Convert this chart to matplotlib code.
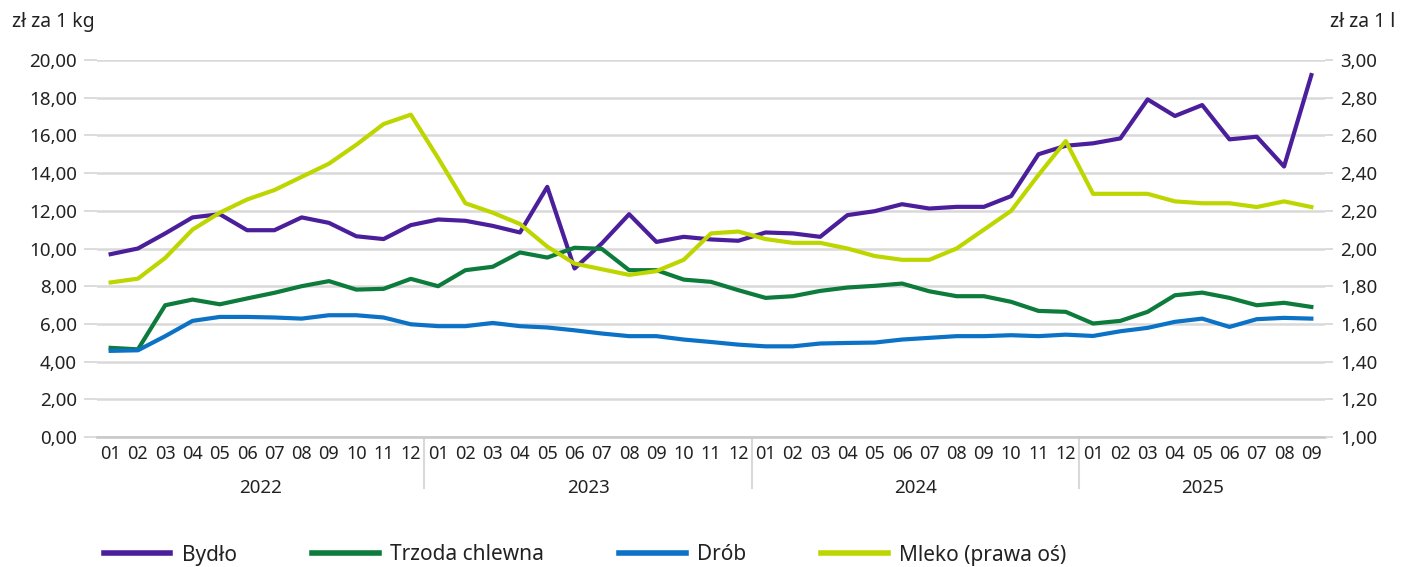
import matplotlib
matplotlib.use("Agg")
import matplotlib.pyplot as plt
from matplotlib.lines import Line2D
import numpy as np

plt.rcParams['font.family'] = ['Noto Sans', 'DejaVu Sans']

# data: monthly prices 2022-01 .. 2025-09
years = ['2022', '2023', '2024', '2025']
months_per_year = [12, 12, 12, 9]
month_labels = []
for n in months_per_year:
    month_labels += ['%02d' % m for m in range(1, n + 1)]

bydlo = [9.70, 10.00, 10.80, 11.65, 11.82, 10.97, 10.97, 11.65, 11.36, 10.65, 10.50, 11.24,
         11.54, 11.47, 11.20, 10.85, 13.27, 8.94, 10.27, 11.82, 10.35, 10.62, 10.48, 10.41,
         10.85, 10.80, 10.62, 11.77, 11.98, 12.35, 12.12, 12.21, 12.21, 12.78, 15.00, 15.45,
         15.58, 15.84, 17.91, 17.03, 17.61, 15.79, 15.93, 14.35, 19.20]
trzoda = [4.73, 4.65, 6.99, 7.29, 7.04, 7.35, 7.65, 8.00, 8.27, 7.82, 7.86, 8.39,
          8.00, 8.85, 9.03, 9.79, 9.52, 10.04, 9.98, 8.85, 8.85, 8.35, 8.23, 7.79,
          7.38, 7.47, 7.75, 7.93, 8.02, 8.14, 7.73, 7.47, 7.47, 7.17, 6.69, 6.64,
          6.02, 6.16, 6.64, 7.52, 7.66, 7.38, 6.99, 7.12, 6.90]
drob = [4.57, 4.60, 5.35, 6.16, 6.37, 6.37, 6.34, 6.28, 6.46, 6.46, 6.34, 5.98,
        5.88, 5.88, 6.05, 5.88, 5.81, 5.66, 5.49, 5.35, 5.35, 5.17, 5.04, 4.90,
        4.81, 4.81, 4.96, 4.99, 5.01, 5.17, 5.26, 5.35, 5.35, 5.40, 5.35, 5.43,
        5.36, 5.61, 5.79, 6.11, 6.28, 5.84, 6.25, 6.32, 6.28]
mleko = [1.82, 1.84, 1.95, 2.10, 2.19, 2.26, 2.31, 2.38, 2.45, 2.55, 2.66, 2.71,
         2.48, 2.24, 2.19, 2.13, 2.01, 1.92, 1.89, 1.86, 1.88, 1.94, 2.08, 2.09,
         2.05, 2.03, 2.03, 2.00, 1.96, 1.94, 1.94, 2.00, 2.10, 2.20, 2.39, 2.57,
         2.29, 2.29, 2.29, 2.25, 2.24, 2.24, 2.22, 2.25, 2.22]

c_bydlo = '#4b1e9b'
c_trzoda = '#0c7b3b'
c_drob = '#0b72c6'
c_mleko = '#bed600'
grid_c = '#d9d9d9'
txt_c = '#222222'

W, H = 1410, 567
fig = plt.figure(figsize=(W / 100, H / 100), dpi=100)
ax = fig.add_axes([97 / W, (H - 437) / H, (1325 - 97) / W, (437 - 60) / H])
ax2 = ax.twinx()

x = np.arange(len(bydlo))
lw = 3.0
ax.plot(x, bydlo, color=c_bydlo, lw=lw, zorder=3)
ax.plot(x, trzoda, color=c_trzoda, lw=lw, zorder=3)
ax.plot(x, drob, color=c_drob, lw=lw, zorder=3)
ax2.plot(x, mleko, color=c_mleko, lw=lw, zorder=3)

ax.set_xlim(-0.5, len(x) - 0.5)
ax.set_ylim(0, 20)
ax2.set_ylim(1, 3)
ax.set_yticks(np.arange(0, 21, 2))
ax.set_yticklabels([('%.2f' % v).replace('.', ',') for v in np.arange(0, 21, 2)])
ax2.set_yticks(np.arange(1, 3.01, 0.2))
ax2.set_yticklabels([('%.2f' % v).replace('.', ',') for v in np.arange(1, 3.01, 0.2)])
ax.set_xticks(x)
ax.set_xticklabels(month_labels)

ax.yaxis.grid(True, color=grid_c, lw=1.8, zorder=0)
ax.set_axisbelow(True)
for a in (ax, ax2):
    for s in a.spines.values():
        s.set_visible(False)
ax.spines['bottom'].set_visible(True)
ax.spines['bottom'].set_color('#c8c8c8')
ax.spines['bottom'].set_linewidth(1.8)

ax.tick_params(axis='y', length=9.5, width=1.3, color=grid_c, pad=5, labelsize=13.5, labelcolor=txt_c)
ax2.tick_params(axis='y', length=6, width=1.3, color=grid_c, pad=5, labelsize=13.5, labelcolor=txt_c)
ax.tick_params(axis='x', length=0, pad=6, labelsize=13, labelcolor=txt_c)

# year separators and labels
start = 0
for yr, n in zip(years, months_per_year):
    center = start + (n - 1) / 2
    ax.text(center, -0.135, yr, transform=ax.get_xaxis_transform(), ha='center', va='center',
            fontsize=13.5, color=txt_c)
    if start > 0:
        ax.plot([start - 0.5, start - 0.5], [0, -0.135], transform=ax.get_xaxis_transform(),
                color=grid_c, lw=1.5, clip_on=False)
    start += n

fig.text(12 / W, 1 - 22 / H, 'zł za 1 kg', ha='left', va='center', fontsize=14, color=txt_c)
fig.text(1395 / W, 1 - 22 / H, 'zł za 1 l', ha='right', va='center', fontsize=14, color=txt_c)

handles = [Line2D([], [], color=c, lw=4) for c in (c_bydlo, c_trzoda, c_drob, c_mleko)]
labels = ['Bydło', 'Trzoda chlewna', 'Drób', 'Mleko (prawa oś)']
fig.legend(handles, labels, loc='center left', bbox_to_anchor=(85 / W, 1 - 555 / H), ncol=4,
           frameon=False, fontsize=15, handlelength=3.2, handletextpad=0.55, columnspacing=3.6,
           labelcolor=txt_c)

fig.savefig('out.png', dpi=100)
